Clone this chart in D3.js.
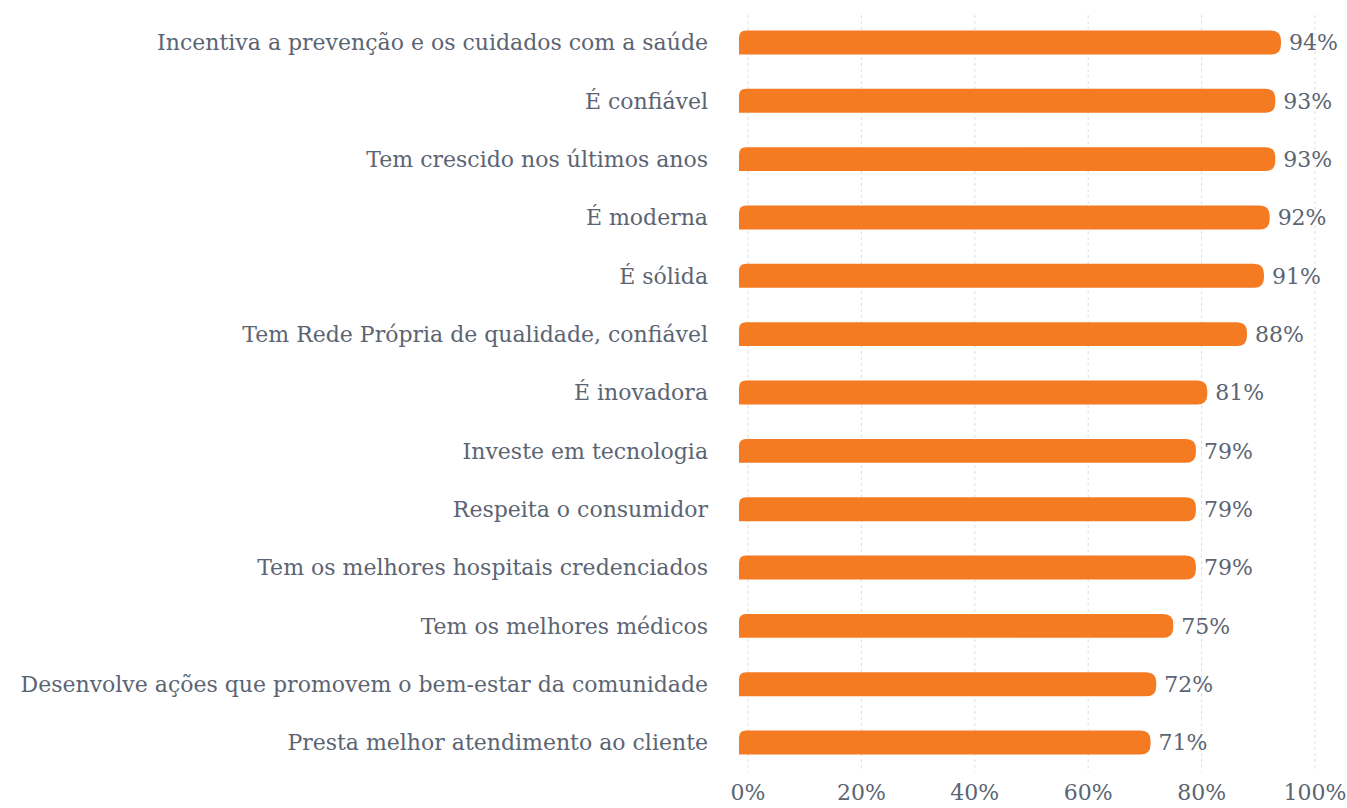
<!DOCTYPE html>
<html>
<head>
<meta charset="utf-8">
<script src="https://cdn.jsdelivr.net/npm/d3@7"></script>
<style>
  body { margin: 0; background: #fff; }
  text { font-family: 'DejaVu Serif', serif; fill: #5b6472; }
</style>
</head>
<body>
<div id="chart"></div>
<script>
const categories = [
  'Incentiva a prevenção e os cuidados com a saúde',
  'É confiável',
  'Tem crescido nos últimos anos',
  'É moderna',
  'É sólida',
  'Tem Rede Própria de qualidade, confiável',
  'É inovadora',
  'Investe em tecnologia',
  'Respeita o consumidor',
  'Tem os melhores hospitais credenciados',
  'Tem os melhores médicos',
  'Desenvolve ações que promovem o bem-estar da comunidade',
  'Presta melhor atendimento ao cliente'
]
const values = [94, 93, 93, 92, 91, 88, 81, 79, 79, 79, 75, 72, 71]
const ticks = [0, 20, 40, 60, 80, 100]

const width = 1347
const height = 808

const svg = d3
  .select('#chart')
  .append('svg')
  .attr('width', width)
  .attr('height', height)

const x = d3.scaleLinear().domain([0, 100]).range([748, 1315])

const y = d3
  .scaleBand()
  .domain(categories)
  .range([13, 772])
  .paddingInner(0.59)
  .paddingOuter(0.3)

// grid
svg
  .selectAll('.grid')
  .data(ticks)
  .enter()
  .append('line')
  .attr('class', 'grid')
  .attr('x1', d => x(d))
  .attr('x2', d => x(d))
  .attr('y1', 15)
  .attr('y2', 772)
  .attr('stroke', '#dedede')
  .attr('stroke-width', 1)
  .attr('stroke-dasharray', '3,3')

// bars: small radius top-left, square bottom-left, round right end
function barPath(x0, x1, y0, h) {
  const r = 10
  const rl = 7
  return 'M' + x0 + ',' + (y0 + h) +
    'L' + x0 + ',' + (y0 + rl) +
    'Q' + x0 + ',' + y0 + ' ' + (x0 + rl) + ',' + y0 +
    'L' + (x1 - r) + ',' + y0 +
    'Q' + x1 + ',' + y0 + ' ' + x1 + ',' + (y0 + r) +
    'L' + x1 + ',' + (y0 + h - r) +
    'Q' + x1 + ',' + (y0 + h) + ' ' + (x1 - r) + ',' + (y0 + h) +
    'Z'
}

svg
  .selectAll('.bar')
  .data(categories)
  .enter()
  .append('path')
  .attr('class', 'bar')
  .attr('d', (d, i) => barPath(x(0) - 9, x(values[i]), y(d), y.bandwidth()))
  .attr('fill', '#f47b22')

// value labels
svg
  .selectAll('.value')
  .data(categories)
  .enter()
  .append('text')
  .attr('class', 'value')
  .attr('x', (d, i) => x(values[i]) + 8)
  .attr('y', d => y(d) + y.bandwidth() / 2)
  .attr('dy', '0.35em')
  .attr('font-size', 22)
  .text((d, i) => values[i] + '%')

// category labels
svg
  .selectAll('.label')
  .data(categories)
  .enter()
  .append('text')
  .attr('class', 'label')
  .attr('x', 708)
  .attr('y', d => y(d) + y.bandwidth() / 2)
  .attr('dy', '0.35em')
  .attr('text-anchor', 'end')
  .attr('font-size', 22)
  .text(d => d)

// x axis labels
svg
  .selectAll('.tick-label')
  .data(ticks)
  .enter()
  .append('text')
  .attr('class', 'tick-label')
  .attr('x', d => x(d))
  .attr('y', 792)
  .attr('dy', '0.35em')
  .attr('text-anchor', 'middle')
  .attr('font-size', 22)
  .text(d => d + '%')
</script>
</body>
</html>
